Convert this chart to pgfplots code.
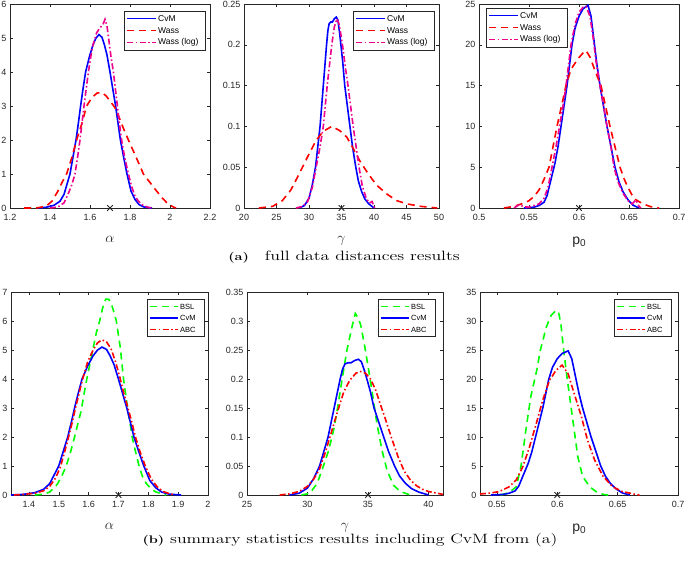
\documentclass[border=0pt]{standalone}
\usepackage{fontspec}
\usepackage{pgfplots}
\pgfplotsset{compat=1.18}
\newfontfamily\hv{Liberation Sans}

\definecolor{axgray}{rgb}{0.15,0.15,0.15}

\tikzset{
  cvm/.style={blue, line width=1.6pt},
  wass/.style={red, line width=1.6pt, dash pattern=on 7pt off 5pt},
  wlog/.style={magenta, line width=1.6pt, dash pattern=on 6pt off 2.5pt on 1.5pt off 2.5pt},
  bsl/.style={green, line width=1.6pt, dash pattern=on 7pt off 5pt},
  abc/.style={red, line width=1.6pt, dash pattern=on 6pt off 2.5pt on 1.5pt off 2.5pt},
}
\pgfplotsset{
  mat/.style={
    scale only axis,
    axis line style={draw=axgray, line width=0.5pt},
    every tick/.style={draw=axgray, line width=0.5pt},
    major tick length=3pt,
    tick align=inside,
    xtick pos=both, ytick pos=both,
    tick label style={font=\hv\fontsize{9}{10}\selectfont, text=axgray},
    xticklabel style={yshift=-3pt},
    /pgf/number format/assume math mode=true,
    /pgf/number format/fixed,
    scaled ticks=false,
    ymin=0,
    xlabel style={font=\fontsize{15}{16}\selectfont, text=axgray, yshift=-9pt},
    clip=false,
  },
  truth/.style={only marks, mark=x, mark size=4pt, axgray, line width=0.8pt},
}

% legend pieces, in px from the top-left corner:
% box (x0,y0,x1,y1); sample lines drawn by a small hidden axis; entry texts
\newcommand\legbox[4]{\draw[axgray, line width=0.5pt, fill=white] (#1pt,-#2pt) rectangle (#3pt,-#4pt);}
\newcommand\leglines[7]{%
  \begin{axis}[hide axis, scale only axis, clip=false, at={(#1pt,-#2pt)}, anchor=north west,
    width=#4pt, height=#3pt, xmin=0, xmax=1, ymin=0, ymax=2]
  \addplot[#5] coordinates {(0,2)(1,2)};
  \addplot[#6] coordinates {(0,1)(1,1)};
  \addplot[#7] coordinates {(0,0)(1,0)};
  \end{axis}}
\newcommand\legtext[2]{\node[anchor=west, inner sep=0pt] at (#1pt,-#2pt)}

% CvM posteriors (shared by both rows)
\pgfplotstableread{
x y
1.34 0
1.38 0.02
1.42 0.08
1.45 0.2
1.47 0.4
1.485 0.7
1.50 1.0
1.515 1.5
1.53 2.0
1.542 2.5
1.553 3.0
1.565 3.5
1.578 4.0
1.597 4.45
1.615 4.8
1.63 5.0
1.645 5.1
1.66 5.02
1.672 4.8
1.685 4.5
1.70 4.0
1.714 3.5
1.728 3.0
1.740 2.5
1.752 2.0
1.768 1.5
1.785 1.0
1.805 0.5
1.825 0.25
1.845 0.1
1.87 0.03
1.91 0
}\cvmalpha

\pgfplotstableread{
x y
28.5 0
29.3 0.003
30.0 0.012
30.5 0.028
31.0 0.05
31.35 0.075
31.7 0.1
31.95 0.125
32.2 0.15
32.45 0.175
32.7 0.2
32.9 0.217
33.1 0.226
33.35 0.228
33.6 0.228
33.9 0.232
34.2 0.234
34.45 0.23
34.7 0.215
34.95 0.197
35.2 0.178
35.5 0.15
35.9 0.125
36.3 0.1
36.7 0.075
37.2 0.05
37.6 0.033
38.1 0.02
38.6 0.011
39.2 0.005
40.0 0
}\cvmgamma

\pgfplotstableread{
x y
0.545 0
0.555 0.1
0.56 0.3
0.565 0.7
0.568 1.5
0.571 3
0.576 5.5
0.579 7.5
0.582 10
0.585 12.5
0.588 15
0.5905 17.5
0.593 20
0.596 22
0.6 23.5
0.604 24.4
0.609 24.85
0.612 23.5
0.615 20.5
0.618 17.5
0.621 15
0.6245 12.5
0.628 10
0.632 7.5
0.636 5
0.64 3.2
0.644 2
0.649 1
0.654 0.35
0.66 0
}\cvmpzero

\begin{document}
\begin{tikzpicture}
\path[use as bounding box] (0pt,0pt) rectangle (685pt,-561pt);

% ---------- row (a) ----------
\begin{axis}[mat, at={(10pt,-208pt)}, anchor=south west, width=200pt, height=204pt,
  xmin=1.2, xmax=2.2, ymax=6,
  xtick={1.2,1.4,1.6,1.8,2,2.2}, ytick={0,1,2,3,4,5,6},
  xlabel={$\alpha$}]
\addplot[cvm] table {\cvmalpha};
\addplot[wass] coordinates {
(1.27,0)(1.33,0)(1.38,0.05)(1.41,0.2)(1.44,0.5)(1.46,0.75)(1.483,1.0)(1.51,1.5)
(1.533,2.0)(1.56,2.5)(1.583,3.0)(1.61,3.25)(1.635,3.38)(1.658,3.4)(1.68,3.3)
(1.70,3.15)(1.725,2.95)(1.75,2.6)(1.77,2.3)(1.792,2.0)(1.83,1.5)(1.867,1.0)
(1.90,0.75)(1.933,0.5)(1.96,0.3)(1.99,0.12)(2.02,0.02)(2.03,0)};
\addplot[wlog] coordinates {
(1.40,0)(1.44,0.03)(1.47,0.15)(1.49,0.4)(1.51,0.7)(1.525,1.0)(1.538,1.5)(1.55,2.0)
(1.56,2.5)(1.57,3.0)(1.581,3.5)(1.592,4.0)(1.608,4.6)(1.62,4.9)(1.633,5.15)(1.65,5.3)
(1.665,5.4)(1.675,5.55)(1.685,5.35)(1.695,4.9)(1.705,4.45)(1.717,4.0)(1.727,3.5)
(1.737,3.0)(1.747,2.5)(1.758,2.0)(1.773,1.5)(1.792,1.0)(1.81,0.6)(1.825,0.35)
(1.842,0.2)(1.865,0.08)(1.89,0.02)(1.91,0)};
\addplot[truth] coordinates {(1.7,0)};
\end{axis}

\begin{axis}[mat, at={(244pt,-208pt)}, anchor=south west, width=195pt, height=204pt,
  xmin=20, xmax=50, ymax=0.25,
  xtick={20,25,30,35,40,45,50}, ytick={0,0.05,0.1,0.15,0.2,0.25},
  xlabel={$\gamma$}]
\addplot[cvm] table {\cvmgamma};
\addplot[wass] coordinates {
(22.3,0)(24.4,0.002)(25.9,0.009)(27.2,0.022)(28.5,0.042)(29.8,0.063)(31.1,0.083)
(32.2,0.094)(33.5,0.1)(34.7,0.095)(35.8,0.087)(36.8,0.073)(37.8,0.058)(39.1,0.042)
(40.4,0.028)(42,0.017)(43.5,0.009)(45.1,0.005)(47.2,0.002)(49.7,0)};
\addplot[wlog] coordinates {
(28.0,0)(29.0,0.002)(29.8,0.008)(30.5,0.025)(31.1,0.05)(31.7,0.075)(32.2,0.1)
(32.5,0.125)(32.8,0.15)(33.15,0.175)(33.5,0.2)(33.9,0.222)(34.3,0.232)(34.6,0.226)
(34.9,0.213)(35.2,0.197)(35.6,0.172)(36.0,0.15)(36.4,0.125)(36.8,0.1)(37.25,0.075)
(37.7,0.05)(38.2,0.027)(38.8,0.012)(39.3,0.006)(39.7,0.008)(40.1,0)};
\addplot[truth] coordinates {(35,0)};
\end{axis}

\begin{axis}[mat, at={(479pt,-208pt)}, anchor=south west, width=200pt, height=204pt,
  xmin=0.5, xmax=0.7, ymax=25,
  xtick={0.5,0.55,0.6,0.65,0.7}, ytick={0,5,10,15,20,25},
  xlabel={\hv\fontsize{14}{15}\selectfont p\raisebox{-0.35ex}{\fontsize{10}{10}\selectfont 0}}]
\addplot[cvm] table {\cvmpzero};
\addplot[wass] coordinates {
(0.525,0)(0.535,0.2)(0.54,0.4)(0.545,0.6)(0.55,0.9)(0.555,1.4)(0.56,2.2)(0.565,3.5)
(0.57,5)(0.574,7.5)(0.578,10)(0.5825,12.5)(0.587,15)(0.592,17)(0.599,18.3)(0.604,19)
(0.607,19.3)(0.611,18.5)(0.614,17.5)(0.618,16.2)(0.622,15)(0.6265,12.5)(0.631,10)
(0.636,7.5)(0.641,5)(0.645,3.6)(0.649,2.5)(0.653,1.6)(0.657,1.0)(0.664,0.5)
(0.672,0.15)(0.68,0)};
\addplot[wlog] coordinates {
(0.535,0)(0.54,0.4)(0.545,0.15)(0.55,0.1)(0.555,0.3)(0.56,0.5)(0.565,1.2)(0.569,2.5)
(0.573,5)(0.577,7.5)(0.5805,10)(0.584,12.5)(0.587,15)(0.5895,17.5)(0.592,20)
(0.596,22.5)(0.6,24)(0.604,24.6)(0.607,24.7)(0.611,23.5)(0.614,21)(0.617,18)
(0.621,15)(0.6245,12.5)(0.628,10)(0.632,7.5)(0.635,5)(0.639,3.2)(0.644,1.8)
(0.649,0.9)(0.653,0.5)(0.657,1.0)(0.66,0.2)(0.662,0)};
\addplot[truth] coordinates {(0.6,0)};
\end{axis}

% ---------- row (b) ----------
\begin{axis}[mat, at={(11pt,-495pt)}, anchor=south west, width=197pt, height=203pt,
  xmin=1.34, xmax=2, ymax=7,
  xtick={1.4,1.5,1.6,1.7,1.8,1.9,2}, ytick={0,1,2,3,4,5,6,7},
  xlabel={$\alpha$}]
\addplot[bsl] coordinates {
(1.42,0)(1.45,0.03)(1.469,0.1)(1.485,0.25)(1.497,0.4)(1.512,0.7)(1.525,1.0)(1.54,1.5)
(1.553,2.0)(1.565,2.5)(1.575,2.9)(1.585,3.5)(1.594,4.0)(1.604,4.5)(1.614,5.0)
(1.626,5.6)(1.637,6.0)(1.647,6.45)(1.657,6.75)(1.667,6.75)(1.676,6.6)(1.685,6.3)
(1.693,6.0)(1.70,5.5)(1.706,5.1)(1.712,4.5)(1.717,4.0)(1.725,3.4)(1.732,2.9)
(1.74,2.4)(1.746,2.0)(1.757,1.5)(1.769,1.0)(1.78,0.65)(1.793,0.4)(1.81,0.2)
(1.827,0.1)(1.86,0)};
\addplot[cvm] table {\cvmalpha};
\addplot[abc] coordinates {
(1.35,0)(1.38,0.02)(1.42,0.06)(1.45,0.15)(1.47,0.3)(1.49,0.6)(1.505,0.95)(1.52,1.5)
(1.533,2.0)(1.545,2.5)(1.556,3.0)(1.568,3.5)(1.58,4.0)(1.597,4.6)(1.615,5.0)
(1.63,5.25)(1.645,5.35)(1.66,5.28)(1.675,5.05)(1.69,4.6)(1.705,4.05)(1.718,3.5)
(1.732,3.0)(1.745,2.5)(1.757,2.0)(1.772,1.5)(1.79,1.0)(1.81,0.55)(1.83,0.28)
(1.85,0.12)(1.87,0.05)(1.89,0)};
\addplot[truth] coordinates {(1.7,0)};
\end{axis}

\begin{axis}[mat, at={(247pt,-495pt)}, anchor=south west, width=196pt, height=203pt,
  xmin=25, xmax=41.2, ymax=0.35,
  xtick={25,30,35,40}, ytick={0,0.05,0.1,0.15,0.2,0.25,0.3,0.35},
  xlabel={$\gamma$}]
\addplot[bsl] coordinates {
(29.5,0)(30.2,0.003)(30.8,0.02)(31.3,0.049)(31.75,0.077)(32.16,0.112)(32.5,0.152)
(32.85,0.198)(33.26,0.25)(33.68,0.29)(33.95,0.313)(34.2,0.305)(34.4,0.293)
(34.7,0.26)(35.06,0.215)(35.4,0.17)(35.74,0.123)(36.16,0.077)(36.57,0.043)
(37.1,0.017)(37.67,0.006)(38.5,0)};
\addplot[cvm] table {\cvmgamma};
\addplot[abc] coordinates {
(27.7,0)(28.5,0.002)(29.3,0.006)(30.0,0.015)(30.5,0.027)(31.0,0.045)(31.5,0.075)
(32.0,0.11)(32.5,0.145)(33.0,0.178)(33.5,0.198)(34.0,0.21)(34.4,0.213)(34.8,0.21)
(35.2,0.2)(35.6,0.183)(36.0,0.158)(36.5,0.127)(37.0,0.095)(37.5,0.065)(38.0,0.041)
(38.5,0.026)(39.0,0.016)(39.5,0.01)(40.0,0.006)(40.5,0.004)(41.2,0.001)};
\addplot[truth] coordinates {(35,0)};
\end{axis}

\begin{axis}[mat, at={(480pt,-495pt)}, anchor=south west, width=198pt, height=203pt,
  xmin=0.536, xmax=0.7, ymax=35,
  xtick={0.55,0.6,0.65,0.7}, ytick={0,5,10,15,20,25,30,35},
  xlabel={\hv\fontsize{14}{15}\selectfont p\raisebox{-0.35ex}{\fontsize{10}{10}\selectfont 0}}]
\addplot[bsl] coordinates {
(0.553,0)(0.56,0.4)(0.566,1.4)(0.570,5)(0.574,11.2)(0.578,16.9)(0.583,21.5)(0.586,25)
(0.591,29)(0.595,31)(0.599,31.8)(0.601,31.6)(0.603,29.5)(0.605,25.5)(0.608,20.4)
(0.611,15.8)(0.614,11.2)(0.617,6.6)(0.621,3.2)(0.627,1.4)(0.632,0.6)(0.638,0.1)
(0.642,0)};
\addplot[cvm] table {\cvmpzero};
\addplot[abc] coordinates {
(0.536,0.17)(0.545,0.35)(0.552,0.6)(0.56,1.4)(0.566,2.6)(0.5715,4.9)(0.577,8.3)
(0.5826,12.3)(0.588,16.4)(0.5936,19.8)(0.599,21.5)(0.604,22.4)(0.609,20.9)
(0.614,17.5)(0.62,13.5)(0.625,9.5)(0.631,6)(0.638,3.2)(0.646,1.4)(0.654,0.6)
(0.665,0.1)(0.668,0)};
\addplot[truth] coordinates {(0.6,0)};
\end{axis}

% ---------- legends ----------
\legbox{124}{11}{205}{50}
\legbox{353}{11}{434}{50}
\legbox{486}{8}{567}{47}
\legbox{147}{299}{204}{336}
\legbox{378}{299}{435}{336}
\legbox{614}{299}{671}{336}
\leglines{127}{18.5}{24}{29}{cvm}{wass}{wlog}
\leglines{356}{18.5}{24}{29}{cvm}{wass}{wlog}
\leglines{489}{15.5}{24}{29}{cvm}{wass}{wlog}
\leglines{150}{306.5}{23}{28}{bsl}{cvm}{abc}
\leglines{381}{306.5}{23}{28}{bsl}{cvm}{abc}
\leglines{617}{306.5}{23}{28}{bsl}{cvm}{abc}
\begin{scope}[font=\hv\fontsize{8.5}{9}\selectfont]
\legtext{158}{18.5}{CvM}; \legtext{158}{30.5}{Wass}; \legtext{158}{42.5}{Wass (log)};
\legtext{387}{18.5}{CvM}; \legtext{387}{30.5}{Wass}; \legtext{387}{42.5}{Wass (log)};
\legtext{520}{15.5}{CvM}; \legtext{520}{27.5}{Wass}; \legtext{520}{39.5}{Wass (log)};
\end{scope}
\begin{scope}[font=\hv\fontsize{7.5}{8}\selectfont]
\legtext{180}{306.5}{BSL}; \legtext{180}{318}{CvM}; \legtext{180}{329.5}{ABC};
\legtext{411}{306.5}{BSL}; \legtext{411}{318}{CvM}; \legtext{411}{329.5}{ABC};
\legtext{647}{306.5}{BSL}; \legtext{647}{318}{CvM}; \legtext{647}{329.5}{ABC};
\end{scope}

% ---------- sub-captions ----------
\node at (344pt,-257pt) {\scalebox{1.32}[1]{\fontsize{13.5}{15}\selectfont
  {\fontsize{11}{13}\selectfont\bfseries (a)}\hspace{0.9em}full data distances results}};
\node at (350pt,-540pt) {\scalebox{1.32}[1]{\fontsize{13.5}{15}\selectfont
  {\fontsize{11}{13}\selectfont\bfseries (b)}\ summary statistics results including CvM from (a)}};
\end{tikzpicture}
\end{document}
